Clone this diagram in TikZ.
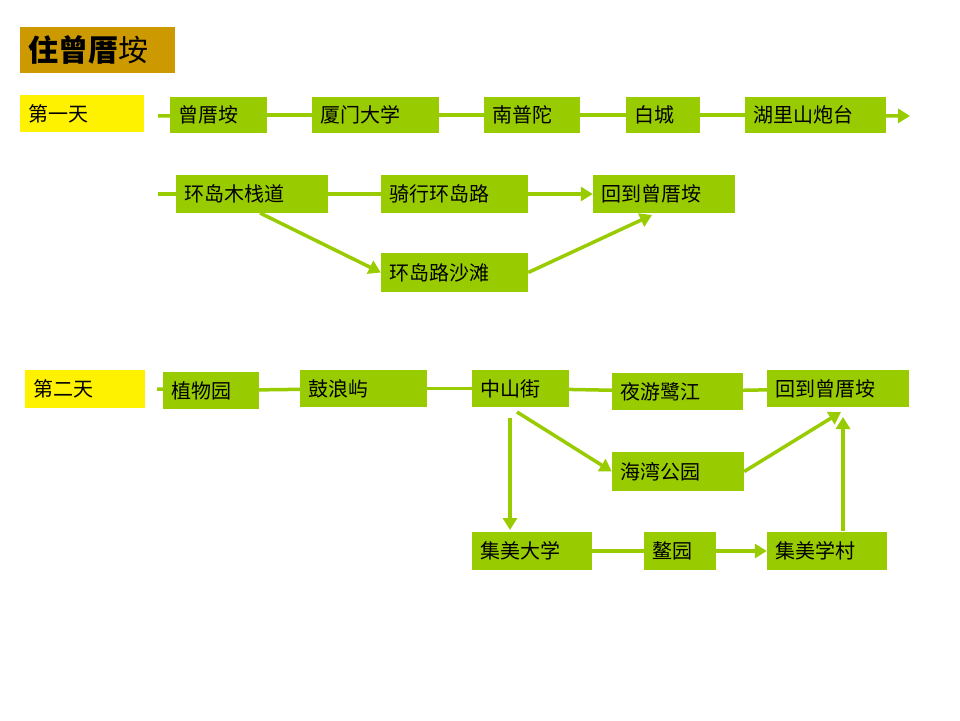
\documentclass[tikz,border=0pt]{standalone}
\usepackage{fontspec}
\setmainfont{Noto Sans CJK SC}
\usetikzlibrary{arrows.meta}
\definecolor{gr}{HTML}{99CC00}
\definecolor{ttl}{HTML}{CC9900}
\begin{document}
\begin{tikzpicture}[x=1pt,y=-1pt,
  bx/.style={fill=gr,inner sep=0pt,font=\fontsize{20}{20}\selectfont},
  yb/.style={fill=yellow,inner sep=0pt,font=\fontsize{20}{20}\selectfont},
  ln/.style={draw=gr,line width=3.5pt},
  ar/.style={ln,-{Triangle[length=12pt,width=14pt]}}]
\useasboundingbox (0,0) rectangle (960,720);
\newcommand\B[6]{\node[#1,minimum width=#4-#3,minimum height=#6-#5,text width=#4-#3-16,align=left] (#2) at ({(#3+#4)/2},{(#5+#6)/2})}
\B{fill=ttl,inner sep=0pt,font=\fontsize{30}{30}\selectfont}{title}{20}{175}{27}{73}{\textbf{住曾厝}垵};
\B{yb}{d1}{20}{144}{95}{132}{第一天};
\B{bx}{a1}{170}{267}{97}{133}{曾厝垵};
\B{bx}{a2}{312}{439}{97}{133}{厦门大学};
\B{bx}{a3}{484}{580}{97}{133}{南普陀};
\B{bx}{a4}{626}{700}{97}{133}{白城};
\B{bx}{a5}{745}{886}{97}{133}{湖里山炮台};
\coordinate (s1) at (158,116); \coordinate (e1) at (910,116);
\draw[ln] (s1)--(a1); \draw[ln] (a1)--(a2); \draw[ln] (a2)--(a3); \draw[ln] (a3)--(a4); \draw[ln] (a4)--(a5);
\draw[ar] (a5)--(e1);
\B{bx}{b1}{176}{328}{175}{213}{环岛木栈道};
\B{bx}{b2}{381}{528}{175}{213}{骑行环岛路};
\B{bx}{b3}{593}{735}{175}{213}{回到曾厝垵};
\B{bx}{b4}{381}{528}{253}{292}{环岛路沙滩};
\coordinate (s2) at (158,194);
\draw[ln] (s2)--(b1); \draw[ln] (b1)--(b2); \draw[ar] (b2)--(b3);
\draw[ar] (260,213)--(b4.west);
\draw[ar] (b4.east)--(652,215);
\B{yb}{d2}{25}{145}{370}{408}{第二天};
\B{bx}{c1}{163}{259}{372}{409}{植物园};
\B{bx}{c2}{300}{427}{370}{407}{鼓浪屿};
\B{bx}{c3}{472}{569}{370}{407}{中山街};
\B{bx}{c4}{612}{743}{373}{410}{夜游鹭江};
\B{bx}{c5}{767}{909}{370}{407}{回到曾厝垵};
\B{bx}{h1}{612}{744}{452}{491}{海湾公园};
\B{bx}{j1}{472}{592}{532}{570}{集美大学};
\B{bx}{j2}{644}{716}{532}{570}{鳌园};
\B{bx}{j3}{767}{887}{532}{570}{集美学村};
\coordinate (s3) at (157,389);
\draw[ln] (s3)--(c1); \draw[ln] (c1)--(c2); \draw[ln] (c2)--(c3); \draw[ln] (c3)--(c4); \draw[ln] (c4)--(c5);
\draw[ar] (517,412)--(h1.west);
\draw[ar] (510,418)--(510,530);
\draw[ar] (h1.east)--(841,412);
\draw[ar] (843,531)--(843,417);
\draw[ln] (j1)--(j2); \draw[ar] (j2)--(j3);
\end{tikzpicture}
\end{document}
